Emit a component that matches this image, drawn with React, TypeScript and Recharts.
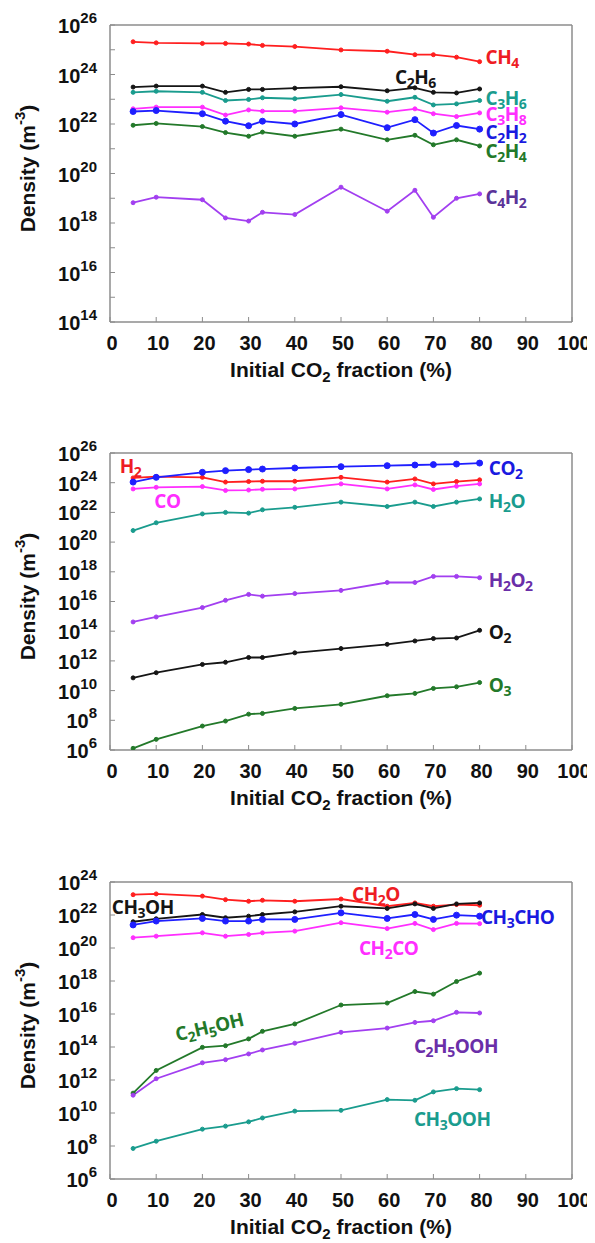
import React from 'react';
import { LineChart, Line, XAxis, YAxis, ReferenceDot } from 'recharts';

// initial CO2 fraction (%)
const fractions = [5, 10, 20, 25, 30, 33, 40, 50, 60, 66, 70, 75, 80];
const xTicks = [0, 10, 20, 30, 40, 50, 60, 70, 80, 90, 100];

// panel 1: hydrocarbons (m^-3)
const ch4 = [2.1e25, 1.9e25, 1.8e25, 1.8e25, 1.7e25, 1.5e25, 1.35e25, 9.8e24, 8.7e24, 6.3e24, 6.3e24, 5.0e24, 3.3e24];
const c2h6 = [3.1e23, 3.4e23, 3.4e23, 1.9e23, 2.5e23, 2.5e23, 2.8e23, 3.2e23, 2.2e23, 2.9e23, 1.9e23, 1.8e23, 2.6e23];
const c3h6 = [1.9e23, 2.1e23, 1.9e23, 8.9e22, 9.8e22, 1.15e23, 1.05e23, 1.55e23, 8.3e22, 1.2e23, 5.9e22, 6.5e22, 8.9e22];
const c3h8 = [4.1e22, 4.8e22, 4.8e22, 2.3e22, 3.7e22, 3.3e22, 3.3e22, 4.5e22, 3.0e22, 4.1e22, 2.6e22, 2.0e22, 2.8e22];
const c2h2 = [3.2e22, 3.5e22, 2.6e22, 1.3e22, 8.5e21, 1.3e22, 1.0e22, 2.4e22, 7.1e21, 1.5e22, 4.3e21, 8.7e21, 6.2e21];
const c2h4 = [8.9e21, 1.05e22, 7.9e21, 4.5e21, 3.2e21, 4.7e21, 3.2e21, 6.2e21, 2.3e21, 3.5e21, 1.45e21, 2.3e21, 1.3e21];
const c4h2 = [6.6e18, 1.1e19, 8.7e18, 1.6e18, 1.2e18, 2.7e18, 2.2e18, 2.8e19, 3.0e18, 2.1e19, 1.7e18, 1.0e19, 1.5e19];

// panel 2: inorganics
const co2 = [1.1e24, 2.3e24, 5.0e24, 6.5e24, 7.6e24, 8.3e24, 9.8e24, 1.2e25, 1.4e25, 1.55e25, 1.65e25, 1.8e25, 2.1e25];
const h2 = [2.1e24, 2.6e24, 2.3e24, 1.1e24, 1.2e24, 1.25e24, 1.25e24, 2.3e24, 1.1e24, 1.8e24, 8.3e23, 1.2e24, 1.55e24];
const co = [3.8e23, 4.9e23, 5.5e23, 3.0e23, 3.2e23, 3.6e23, 3.8e23, 8.3e23, 3.8e23, 7.1e23, 3.5e23, 5.8e23, 8.3e23];
const h2o = [6.0e20, 2.0e21, 7.9e21, 1.0e22, 8.9e21, 1.5e22, 2.2e22, 4.9e22, 2.5e22, 4.9e22, 2.5e22, 4.9e22, 8.1e22];
const h2o2 = [4.2e14, 9.1e14, 3.9e15, 1.2e16, 3.0e16, 2.3e16, 3.4e16, 5.6e16, 1.9e17, 1.9e17, 4.9e17, 4.9e17, 4.0e17];
const o2 = [7.2e10, 1.6e11, 5.8e11, 8.1e11, 1.7e12, 1.7e12, 3.5e12, 6.8e12, 1.3e13, 2.2e13, 3.2e13, 3.5e13, 1.15e14];
const o3 = [1.3e6, 5.2e6, 4.1e7, 8.9e7, 2.6e8, 2.9e8, 6.3e8, 1.2e9, 4.5e9, 6.5e9, 1.4e10, 1.8e10, 3.5e10];

// panel 3: oxygenates
const ch2o = [1.7e23, 1.9e23, 1.4e23, 8.5e22, 6.8e22, 7.8e22, 6.8e22, 9.3e22, 3.4e22, 5.4e22, 3.4e22, 4.3e22, 3.9e22];
const ch3oh = [3.9e21, 5.9e21, 1.07e22, 6.8e21, 8.5e21, 1.07e22, 1.55e22, 3.4e22, 2.5e22, 4.7e22, 2.5e22, 4.7e22, 5.4e22];
const ch3cho = [2.5e21, 4.3e21, 6.2e21, 4.3e21, 4.3e21, 5.4e21, 5.4e21, 1.35e22, 6.2e21, 1.07e22, 5.4e21, 9.8e21, 8.5e21];
const ch2co = [4.2e20, 5.2e20, 8.3e20, 5.2e20, 6.6e20, 8.3e20, 1.05e21, 3.4e21, 1.5e21, 3.1e21, 1.3e21, 3.1e21, 3.0e21];
const c2h5oh = [1.6e11, 3.8e12, 9.5e13, 1.2e14, 3.1e14, 8.9e14, 2.5e15, 3.5e16, 4.6e16, 2.3e17, 1.6e17, 9.3e17, 3.0e18];
const c2h5ooh = [1.2e11, 1.2e12, 1.1e13, 1.7e13, 3.8e13, 6.6e13, 1.7e14, 7.8e14, 1.4e15, 3.1e15, 3.9e15, 1.26e16, 1.15e16];
const ch3ooh = [7.1e7, 1.95e8, 1.05e9, 1.6e9, 2.9e9, 5.0e9, 1.3e10, 1.45e10, 6.5e10, 5.9e10, 1.9e11, 3.0e11, 2.6e11];

const RED = '#ff1f1f';
const BLACK = '#151515';
const TEAL = '#1a9c8e';
const MAGENTA = '#ff2eff';
const BLUE = '#1f1fff';
const GREEN = '#23792a';
const PURPLE = '#a23ff0';
const DARK_PURPLE = '#5a3399';
const FRAME = '#8c8c8c';

type Series = { key: string; values: number[]; color: string; big?: boolean };
type Tag = { text: string; x: number; y: number; color: string; rotate?: number; anchor?: string };

const panels: { top: number; exps: [number, number]; series: Series[]; tags: Tag[] }[] = [
  {
    top: 16,
    exps: [14, 26],
    series: [
      { key: 'CH4', values: ch4, color: RED },
      { key: 'C2H6', values: c2h6, color: BLACK },
      { key: 'C3H6', values: c3h6, color: TEAL },
      { key: 'C3H8', values: c3h8, color: MAGENTA },
      { key: 'C2H2', values: c2h2, color: BLUE, big: true },
      { key: 'C2H4', values: c2h4, color: GREEN },
      { key: 'C4H2', values: c4h2, color: PURPLE },
    ],
    tags: [
      { text: 'CH4', x: 81.3, y: 4.9e24, color: '#ee1c24' },
      { text: 'C2H6', x: 61.7, y: 8.3e23, color: BLACK },
      { text: 'C3H6', x: 81.3, y: 1.1e23, color: TEAL },
      { text: 'C3H8', x: 81.3, y: 2.5e22, color: MAGENTA },
      { text: 'C2H2', x: 81.3, y: 4.7e21, color: '#1a1ae0' },
      { text: 'C2H4', x: 81.3, y: 7.9e20, color: GREEN },
      { text: 'C4H2', x: 81.3, y: 1.1e19, color: DARK_PURPLE },
    ],
  },
  {
    top: 15,
    exps: [6, 26],
    series: [
      { key: 'H2', values: h2, color: RED },
      { key: 'CO', values: co, color: MAGENTA },
      { key: 'CO2', values: co2, color: BLUE, big: true },
      { key: 'H2O', values: h2o, color: TEAL },
      { key: 'H2O2', values: h2o2, color: PURPLE },
      { key: 'O2', values: o2, color: BLACK },
      { key: 'O3', values: o3, color: GREEN },
    ],
    tags: [
      { text: 'H2', x: 2.1, y: 1.4e25, color: '#ee1c24' },
      { text: 'CO', x: 9.6, y: 6.3e22, color: MAGENTA },
      { text: 'CO2', x: 82, y: 1e25, color: '#1a1ae0' },
      { text: 'H2O', x: 82, y: 6.3e22, color: TEAL },
      { text: 'H2O2', x: 82, y: 2.7e17, color: '#6a2ea8' },
      { text: 'O2', x: 82, y: 8.7e13, color: BLACK },
      { text: 'O3', x: 82, y: 2.5e10, color: GREEN },
    ],
  },
  {
    top: 15,
    exps: [6, 24],
    series: [
      { key: 'CH2O', values: ch2o, color: RED },
      { key: 'CH3OH', values: ch3oh, color: BLACK },
      { key: 'CH3CHO', values: ch3cho, color: BLUE, big: true },
      { key: 'CH2CO', values: ch2co, color: MAGENTA },
      { key: 'C2H5OH', values: c2h5oh, color: GREEN },
      { key: 'C2H5OOH', values: c2h5ooh, color: PURPLE },
      { key: 'CH3OOH', values: ch3ooh, color: TEAL },
    ],
    tags: [
      { text: 'CH3OH', x: 0.4, y: 3e22, color: BLACK },
      { text: 'CH2O', x: 52.4, y: 1.8e23, color: '#ee1c24' },
      { text: 'CH3CHO', x: 80.3, y: 7.4e21, color: '#1a1ae0' },
      { text: 'CH2CO', x: 53.9, y: 1e20, color: MAGENTA },
      { text: 'C2H5OH', x: 21.5, y: 1.7e15, color: GREEN, rotate: -13, anchor: 'middle' },
      { text: 'C2H5OOH', x: 65.8, y: 1.2e14, color: '#6a2ea8' },
      { text: 'CH3OOH', x: 65.8, y: 4.2e9, color: TEAL },
    ],
  },
];

const FONT = "'Liberation Sans', Arial, sans-serif";
const CHEM_FONT = "'Open Sans', sans-serif";

function ChemText({ x, y, text, color, rotate = 0, anchor = 'start' }: any) {
  const parts: string[] = text.split(/(\d+)/).filter(Boolean);
  let sub = false;
  return (
    <text
      x={x}
      y={y}
      fill={color}
      fontSize={19}
      fontWeight="bold"
      fontFamily={CHEM_FONT}
      textAnchor={anchor}
      dominantBaseline="central"
      letterSpacing={-0.5}
      transform={rotate ? `rotate(${rotate} ${x} ${y})` : undefined}
    >
      {parts.map((p, i) => {
        const isNum = /^\d+$/.test(p);
        const dy = isNum ? 5 : sub ? -5 : 0;
        sub = isNum;
        return (
          <tspan key={i} dy={dy} fontSize={isNum ? 14 : 19}>
            {p}
          </tspan>
        );
      })}
    </text>
  );
}

function PowTick({ x, y, payload }: any) {
  const e = Math.round(Math.log10(payload.value));
  if (e % 2 !== 0) return <g />;
  return (
    <text x={x} y={y} textAnchor="end" fontFamily={FONT} fontWeight="bold" fill="#111">
      <tspan dy={8} fontSize={20}>10</tspan>
      <tspan dy={-10} fontSize={15}>{e}</tspan>
    </text>
  );
}

function XTick({ x, y, payload }: any) {
  return (
    <text x={x + 2} y={y} textAnchor="middle" fontFamily={FONT} fontWeight="bold" fontSize={20} fill="#111">
      {payload.value}
    </text>
  );
}

const axisLine = { stroke: FRAME, strokeWidth: 1.5 };
const tickLine = { stroke: FRAME, strokeWidth: 1 };

function Panel({ top, exps, series, tags }: (typeof panels)[number]) {
  const data = fractions.map((f, i) => {
    const row: Record<string, number> = { x: f };
    series.forEach((s) => (row[s.key] = s.values[i]));
    return row;
  });
  const decades: number[] = [];
  for (let e = exps[0]; e <= exps[1]; e++) decades.push(Math.pow(10, e));
  const domain = [decades[0], decades[decades.length - 1]];

  return (
    <LineChart
      width={587}
      height={429}
      data={data}
      margin={{ top, right: 22, bottom: 131 - top - 60, left: 22 }}
      style={{ overflow: 'visible' }}
    >
      <XAxis
        xAxisId="b"
        dataKey="x"
        type="number"
        domain={[0, 100]}
        ticks={xTicks}
        height={60}
        axisLine={axisLine}
        tickLine={tickLine}
        tickSize={-5}
        tickMargin={33}
        tick={<XTick />}
        label={(p: any) => {
          const vb = p.viewBox;
          return (
            <text x={vb.x + vb.width / 2} y={vb.y + 55} textAnchor="middle" fontFamily={FONT} fontWeight="bold" fontSize={21} fill="#111">
              Initial CO<tspan dy={5} fontSize={15}>2</tspan>
              <tspan dy={-5}> fraction (%)</tspan>
            </text>
          );
        }}
      />
      <XAxis
        xAxisId="t"
        orientation="top"
        dataKey="x"
        type="number"
        domain={[0, 100]}
        ticks={xTicks}
        height={1}
        axisLine={axisLine}
        tickLine={tickLine}
        tickSize={-5}
        tick={false}
      />
      <YAxis
        yAxisId="l"
        type="number"
        scale="log"
        domain={domain}
        allowDataOverflow
        ticks={decades}
        width={80}
        axisLine={axisLine}
        tickLine={tickLine}
        tickSize={-5}
        tickMargin={18}
        tick={<PowTick />}
        label={(p: any) => {
          const vb = p.viewBox;
          const cx = vb.x - 3;
          const cy = vb.y + vb.height / 2 - 5;
          return (
            <text
              x={cx}
              y={cy}
              transform={`rotate(-90 ${cx} ${cy})`}
              textAnchor="middle"
              dominantBaseline="central"
              fontFamily={FONT}
              fontWeight="bold"
              fontSize={21}
              fill="#111"
            >
              Density (m<tspan dy={-8} fontSize={15}>-3</tspan>
              <tspan dy={8}>)</tspan>
            </text>
          );
        }}
      />
      <YAxis
        yAxisId="r"
        orientation="right"
        type="number"
        scale="log"
        domain={domain}
        allowDataOverflow
        ticks={decades}
        width={1}
        axisLine={axisLine}
        tickLine={tickLine}
        tickSize={-5}
        tick={false}
      />
      {series.map((s) => (
        <Line
          key={s.key}
          xAxisId="b"
          yAxisId="l"
          dataKey={s.key}
          stroke={s.color}
          strokeWidth={1.8}
          dot={{ r: s.big ? 3 : 2, fill: s.color, stroke: s.color, strokeWidth: 1 }}
          isAnimationActive={false}
        />
      ))}
      {tags.map((t) => (
        <ReferenceDot
          key={t.text}
          xAxisId="b"
          yAxisId="l"
          x={t.x}
          y={t.y}
          r={0}
          ifOverflow="visible"
          shape={(p: any) => (
            <ChemText x={p.cx} y={p.cy} text={t.text} color={t.color} rotate={t.rotate} anchor={t.anchor} />
          )}
        />
      ))}
    </LineChart>
  );
}

export default function App() {
  return (
    <div style={{ width: 587, background: '#fff', fontFamily: FONT }}>
      {panels.map((p, i) => (
        <Panel key={i} {...p} />
      ))}
    </div>
  );
}
